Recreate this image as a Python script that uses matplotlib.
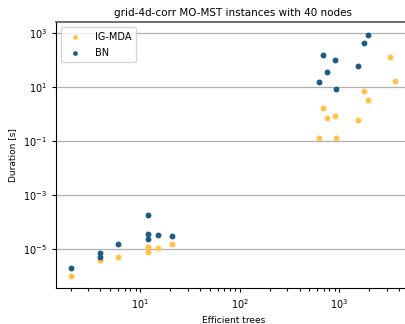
import matplotlib
matplotlib.use('Agg')
import matplotlib.pyplot as plt
from matplotlib.ticker import LogLocator, NullLocator

plt.rcParams['mathtext.fontset'] = 'cm'
plt.rcParams['font.family'] = 'DejaVu Sans'

# IG-MDA results (efficient trees vs. duration in seconds)
igmda_trees = [2, 4, 4, 6, 12, 12, 12, 15, 21,
               625, 685, 752, 918, 933, 1553, 1771, 1955, 3236, 3656]
igmda_time = [1.0e-6, 3.9e-6, 3.9e-6, 5.1e-6, 1.22e-5, 7.9e-6, 1.2e-5, 1.09e-5, 1.57e-5,
              0.132, 1.71, 0.73, 0.86, 0.129, 0.58, 7.1, 3.2, 132, 16.7]

# BN results
bn_trees = [2, 4, 4, 6, 12, 12, 12, 15, 21,
            625, 685, 752, 912, 933, 1553, 1771, 1955]
bn_time = [2.03e-6, 7.1e-6, 5.06e-6, 1.53e-5, 1.77e-4, 3.69e-5, 2.29e-5, 3.39e-5, 3.03e-5,
           14.9, 157, 36.9, 100, 8.2, 60, 416, 865]

yticks = [1e3, 1e1, 1e-1, 1e-3, 1e-5]

fig = plt.figure(figsize=(4.06, 3.24), dpi=100)
# axes runs past the right edge of the figure, like the cropped original
ax = fig.add_axes([56 / 406, 1 - 288 / 324, 362 / 406, 266 / 324])

ax.scatter(igmda_trees, igmda_time, s=18, color='#ffc24b', label='IG-MDA', zorder=3, linewidths=0)
ax.scatter(bn_trees, bn_time, s=18, color='#1f5b82', label='BN', zorder=3, linewidths=0)

ax.set_xscale('log')
ax.set_yscale('log')
ax.set_xlim(1.43, 6200)
ax.set_ylim(3.6e-7, 2550)
ax.set_yticks(yticks)
ax.yaxis.set_minor_locator(NullLocator())
ax.xaxis.set_minor_locator(LogLocator(base=10, subs=range(2, 10)))
ax.yaxis.grid(True, color='#b0b0b0', linewidth=0.9)
ax.set_axisbelow(True)

ax.tick_params(axis='both', which='major', labelsize=7, length=3, width=0.8)
ax.tick_params(axis='x', which='minor', length=2, width=0.8)
ax.spines['top'].set_color('#555555')
ax.spines['top'].set_linewidth(1.2)

mid = (233.5 - 56) / 362
ax.set_title('grid-4d-corr MO-MST instances with 40 nodes', fontsize=7.5, pad=4, x=mid)
ax.set_xlabel('Efficient trees', fontsize=6.5, x=mid)
ax.set_ylabel('Duration [s]', fontsize=6.5)
ax.legend(loc='upper left', fontsize=7, markerscale=0.8, handletextpad=1.0,
          borderpad=0.5, labelspacing=0.6, framealpha=0.8)

fig.savefig('out.png', dpi=100)
